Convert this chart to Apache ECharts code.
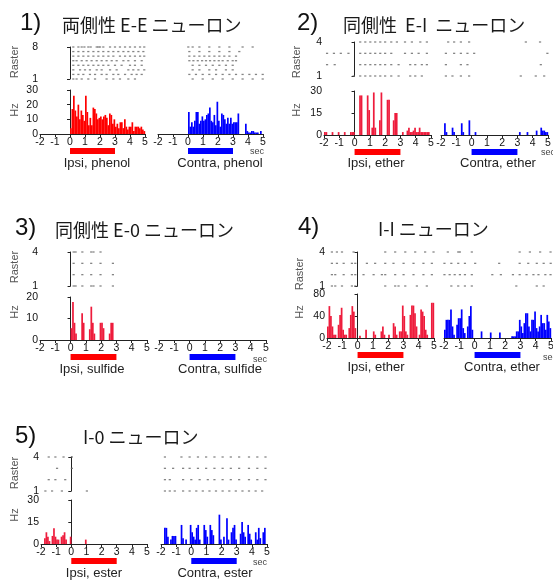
<!DOCTYPE html>
<html><head><meta charset="utf-8">
<script src="https://cdn.jsdelivr.net/npm/echarts@6/dist/echarts.min.js"></script>
<style>html,body{margin:0;padding:0;background:#fff}#c{width:553px;height:581px}</style>
</head><body><div id="c"></div><script>
// ---------- DATA ----------
const binStart = -2, binWidth = 0.1;      // histogram bins: -2.0 .. 4.9 s
const xTicks = [-2, -1, 0, 1, 2, 3, 4, 5];
const stimulus = [0, 3];                  // odor on / off (s)

const panelTitles = ['両側性 E-E ニューロン', '同側性  E-I  ニューロン', '同側性 E-0 ニューロン', 'I-I ニューロン', 'I-0 ニューロン'];
const panelNumbers = ['1)', '2)', '3)', '4)', '5)'];
const ipsiLabels = ['Ipsi, phenol', 'Ipsi, ether', 'Ipsi, sulfide', 'Ipsi, ether', 'Ipsi, ester'];
const contraLabels = ['Contra, phenol', 'Contra, ether', 'Contra, sulfide', 'Contra, ether', 'Contra, ester'];
const hzMax = [30, 30, 20, 80, 30];
const hzStep = [10, 15, 10, 40, 15];
const rasterRows = [8, 4, 4, 4, 4];

// firing rate (Hz), 70 bins from -2.0 s
const hz1Ipsi = [0,0,0,0,0,0,0,0,0,0,0,0,0,0,0,0,0,0,0,0,
  4,17,26,16,12,20,10,16,13,9, 26,15,6,11,6,18,17,14,10,11,
  12,10,12,13,11,6,14,13,7,10, 5,7,4,8,8,4,10,5,3,5,
  5,8,2,5,5,5,4,5,3,2];
const hz1Contra = [0,0,0,0,0,0,0,0,0,0,0,0,0,0,0,0,0,0,0,0,
  15,5,8,5,9,15,15,7,9,12, 9,10,13,14,18,9,8,13,6,22,
  9,5,14,13,10,7,11,7,11,7, 8,8,8,14,0,0,0,0,7,2,
  1,1,2,2,1,1,1,0,2,0];
const hz2Ipsi = [2,2,0,0,0,2,0,0,0,2, 0,0,0,2,0,0,0,2,2,2,
  0,0,0,27,27,0,0,0,27,17, 0,5,29,5,0,0,10,29,0,0,
  0,24,24,0,0,10,15,15,0,0, 0,2,0,0,3,5,2,2,3,5,
  2,2,5,2,2,2,2,2,2,0];
const hz2Contra = [0,0,8,2,0,0,0,5,2,0, 0,0,0,8,2,0,0,0,10,0,
  0,0,2,0,0,0,0,0,0,0, 0,0,0,0,0,0,0,0,0,0,
  0,0,0,0,0,0,0,0,0,0, 0,2,0,0,0,0,2,0,0,0,
  0,0,3,0,0,5,3,3,2,2];
const hz3Ipsi = [0,0,0,0,0,0,0,0,0,0,0,0,0,0,0,0,0,0,0,0,
  5.5,17.7,8,3,0,0,0,12.5,8,0, 0,0,5,15.5,8,3,0,0,0,8,
  8,5.5,0,0,0,3,8,8,0,0, 0,0,0,0,0,0,0,0,0,0,
  0,0,0,0,0,0,0,0,0,0];
const hz3Contra = [0,0,0,0,0,0,0,0,0,0,0,0,0,0,0,0,0,0,0,0,
  0,0,0,0,0,0,0,0,0,0,0,0,0,0,0,0,0,0,0,0,
  0,0,0,0,0,0,0,0,0,0,0,0,0,0,0,0,0,0,0,0,
  0,0,0,0,0,0,0,0,0,0];
const hz4Ipsi = [21,58,40,21,6,6,0,24,42,55, 15,6,6,0,18,42,58,48,18,0,
  0,4,0,0,0,15,0,0,0,0, 12,6,0,0,0,12,21,6,0,0,
  6,0,0,27,21,6,0,12,12,59, 40,12,6,0,42,59,59,45,21,0,
  6,52,48,40,15,6,0,0,64,64];
const hz4Contra = [15,33,33,33,52,21,6,0,24,36, 36,52,18,9,0,21,40,58,15,0,
  0,0,0,0,12,0,0,0,0,0, 10,0,0,0,0,0,10,0,0,0,
  0,0,0,0,3,3,3,12,12,33, 21,9,27,45,45,21,12,33,33,48,
  18,12,21,42,27,27,15,42,30,18];
const hz5Ipsi = [0,0,4,8,5,2,0,5.5,10.7,5, 3,3,0,5,6,8,3,0,0,5,
  0,0,0,0,0,0,0,0,0,3, 0,0,0,0,0,0,0,0,0,0,
  0,0,0,0,0,0,0,0,0,0, 0,0,0,0,0,0,0,0,0,0,
  0,0,0,0,0,0,0,0,0,0];
const hz5Contra = [0,0,11,11,5,0,3,5.5,5.5,5.5, 0,0,0,13,4,0,3,0,0,13,
  8,5,3,11,13,3,0,0,13,9.5, 5,0,13,9.5,6,0,0,0,20,3,
  0,5,0,17.5,3,0,8,11,13,3, 0,0,7,15,8,5,0,13,7,3,
  0,0,8,3,11,4,0,8,11,0];

// spike rasters: spike times (s) per trial, trial 1 first
const raster1Ipsi = [
  [0.22,0.44,0.78,1.22,1.67,2.44,2.89,3.33,3.89,4.33],
  [0.22,0.56,0.89,1.33,1.67,2.11,2.44,2.89,3.22,3.67,4.11,4.44,4.78],
  [0.22,0.67,1.0,1.33,1.78,2.11,2.67,3.11,3.89,4.22,4.56,4.95],
  [0.22,0.56,0.89,1.22,1.56,1.89,2.22,2.56,3.0,3.44,4.0,4.33,4.78],
  [0.22,0.44,0.78,1.11,1.44,1.78,2.11,2.44,2.78,3.11,3.56,3.89,4.33,4.78],
  [0.22,0.56,0.89,1.22,1.56,1.89,2.22,2.56,2.89,3.33,3.67,4.0,4.33,4.67,4.95],
  [0.22,0.56,0.89,1.22,1.56,1.89,2.22,2.56,2.89,3.22,3.56,3.89,4.22,4.56,4.89],
  [0.22,0.56,0.78,0.96,1.22,1.38,1.78,1.89,2.0,2.22,2.67,3.0,3.33,3.67,4.0,4.33,4.67,4.95]];
const raster1Contra = [
  [0.31,0.98,1.65,2.31,2.98,3.64,4.31,4.98],
  [0.09,0.53,0.98,1.42,1.87,2.31,2.76,3.2,3.64,4.09,4.53,4.98],
  [0.31,0.76,1.42,1.87,2.53,2.98],
  [0.31,0.76,1.2,1.65,2.09,2.53,2.98],
  [0.09,0.36,0.65,0.94,1.2,1.47,1.76,2.05,2.31,2.65,2.98,3.2],
  [0.09,0.42,0.76,1.09,1.42,1.76,2.09,2.42,2.76,3.2],
  [0.09,0.76,1.42,2.09,2.76,3.42],
  [0.02,0.31,0.76,1.42,2.09,2.76,3.64,4.31]];
const raster2Ipsi = [
  [-0.06,0.37,0.7,1.03,1.35,1.68,2.0,2.4,2.88,3.64,3.97,4.4],
  [-1.8,-1.3,0.37,0.7,1.03,1.35,1.68,2.0,2.4,2.88,3.64,3.97,4.4,4.73],
  [-1.8,-1.35,-0.9,-0.4,0.37,0.7,1.03,1.35,1.68,2.0,2.4,3.3,3.75,4.19,4.73],
  [0.37,0.7,1.03,1.35,1.68,2.0,2.4,2.77,3.3,3.75,4.3,4.73]];
const raster2Contra = [
  [-1.68,-1.25,-0.7,-0.16,3.22,4.2,4.75],
  [-1.68,-0.7,-0.27,4.53],
  [-1.68,-1.14,-0.7,-0.27,0.17,4.96],
  [-1.53,-1.14,-0.7,-0.16,3.55,4.48]];
const raster3Ipsi = [
  [0.2,0.33,0.77,1.35,1.5,1.96,2.77],
  [0.2,0.77,1.35,1.96,2.77],
  [0.2,0.77,1.35,1.96,2.77],
  [0.2,0.33,0.77,1.35,1.5,1.96]];
const raster3Contra = [[], [], [], []];
const raster4Ipsi = [
  [-1.68,-1.46,-1.02,-0.37,-0.15,1.81,2.46,2.68,3.12,3.88,4.53],
  [-1.68,-1.46,-0.91,-0.37,-0.15,0.39,1.05,1.59,1.81,2.46,3.01,3.66,4.31,4.86],
  [-1.68,-1.35,-0.91,-0.37,-0.15,0.61,1.15,1.81,2.35,3.01,3.66,4.31,4.86],
  [-1.68,-1.35,-1.02,-0.26,1.81,2.46,3.12,3.77,4.42,4.97]];
const raster4Contra = [
  [-1.52,-1.07,-0.63,-0.18,2.73,4.07,4.52],
  [-1.97,-1.63,-1.3,-0.96,-0.63,-0.18,1.16,1.72,2.51,2.95,3.4,3.85,4.18,4.63,4.97],
  [-1.97,-1.52,-1.07,-0.63,0.04,1.61,2.95,3.51,4.07,4.52,4.98],
  [-1.75,-1.07,-0.96,-0.18,2.95,3.62,4.29,4.97]];
const raster5Ipsi = [
  [-1.71,-1.27,-0.62,1.03],
  [-1.49,-1.05,-0.4],
  [-0.94,0.04],
  [-1.49,-1.05,-0.51,0.04]];
const raster5Contra = [
  [-1.74,-1.42,-1.09,-0.54,-0.11,0.33,0.76,1.2,1.63,2.07,2.51,2.94,3.38,3.81,4.25,4.68],
  [-1.74,-1.42,-0.54,0.0,0.55,1.09,1.53,2.07,2.61,3.16,3.81,4.36,4.9],
  [-1.74,-1.2,-0.54,-0.11,0.44,0.98,1.53,2.07,2.61,3.16,3.81,4.36,4.9],
  [-1.74,-0.65,-0.11,0.44,0.98,1.53,2.07,2.61,3.16,3.81,4.36,4.9]];

const hzIpsi = [hz1Ipsi, hz2Ipsi, hz3Ipsi, hz4Ipsi, hz5Ipsi];
const hzContra = [hz1Contra, hz2Contra, hz3Contra, hz4Contra, hz5Contra];
const rastersIpsi = [raster1Ipsi, raster2Ipsi, raster3Ipsi, raster4Ipsi, raster5Ipsi];
const rastersContra = [raster1Contra, raster2Contra, raster3Contra, raster4Contra, raster5Contra];

// ---------- LAYOUT ----------
const layout = [
  {ix:40, cx:158, w:105, rTop:47, rH:32, hTop:90, hH:44, num:[20,23], title:[62,25], axLbl:15, rLblY:62, hzLblY:110, lblY:163, ipsiLblX:97, contraLblX:220, sec:[257,152], red:'#ff0000'},
  {ix:324, cx:441, w:107, rTop:42, rH:34, hTop:91, hH:44, num:[297,23], title:[343,25], axLbl:297, rLblY:62, hzLblY:110, lblY:163, ipsiLblX:376, contraLblX:498, sec:[548,153], red:'#ee1c3c'},
  {ix:40, cx:159, w:107, rTop:252, rH:34, hTop:297, hH:43, num:[15,228], title:[55,230], axLbl:15, rLblY:267, hzLblY:312, lblY:369, ipsiLblX:92, contraLblX:220, sec:[260,360], red:'#ee1c3c'},
  {ix:327, cx:444, w:107, rTop:252, rH:34, hTop:294, hH:44, num:[298,227], title:[378,229], axLbl:300, rLblY:274, hzLblY:312, lblY:367, ipsiLblX:376, contraLblX:502, sec:[550,358], red:'#ee1c3c'},
  {ix:41, cx:161, w:106, rTop:457, rH:34, hTop:500, hH:44, num:[15,436], title:[83,437], axLbl:15, rLblY:473, hzLblY:515, lblY:573, ipsiLblX:94, contraLblX:215, sec:[260,563], red:'#ee1c3c'}
];
const BLUE = '#0000ff';
const AX = '#222';
const NUMFONT = 'Liberation Sans, Arial, sans-serif';
const JPFONT = 'Noto Sans CJK JP, sans-serif';

const grid = [], xAxis = [], yAxis = [], series = [], graphic = [];

function histSeries(gi, arr, color) {
  return {
    type: 'custom', xAxisIndex: gi, yAxisIndex: gi, clip: false, silent: true,
    data: arr.map((v, i) => [binStart + i * binWidth, v]),
    encode: {x: 0, y: 1},
    renderItem: (p, api) => {
      const t = api.value(0), v = api.value(1);
      if (!v) return null;
      const a = api.coord([t, 0]), b = api.coord([t + binWidth, v]);
      return {type: 'rect', shape: {x: a[0], y: b[1], width: b[0] - a[0] + 0.2, height: a[1] - b[1]}, style: {fill: color}};
    }
  };
}
function stimSeries(gi, color) {
  return {
    type: 'custom', xAxisIndex: gi, yAxisIndex: gi, clip: false, silent: true,
    data: [[stimulus[0], stimulus[1]]],
    renderItem: (p, api) => {
      const a = api.coord([api.value(0), 0]), b = api.coord([api.value(1), 0]);
      return {type: 'rect', shape: {x: a[0], y: a[1] + 14, width: b[0] - a[0], height: 6}, style: {fill: color}};
    }
  };
}
function rasterSeries(gi, rows) {
  const d = [];
  rows.forEach((r, ri) => r.forEach(t => d.push([t, ri + 1])));
  return {type: 'scatter', xAxisIndex: gi, yAxisIndex: gi, clip: false, silent: true,
    symbol: 'rect', symbolSize: [2.2, 1.3], itemStyle: {color: '#666'}, data: d};
}
function text(x, y, s, o) {
  graphic.push({type: 'text', x: x, y: y, silent: true,
    style: Object.assign({text: s, fill: '#222', font: '11px ' + NUMFONT, textAlign: 'center', textVerticalAlign: 'middle'}, o || {})});
}

layout.forEach((L, p) => {
  [['ipsi', L.ix], ['contra', L.cx]].forEach(([side, x0]) => {
    const isI = side === 'ipsi';
    // raster grid
    let gi = grid.length;
    grid.push({left: x0, top: L.rTop, width: L.w, height: L.rH, outerBoundsMode: 'none'});
    xAxis.push({gridIndex: gi, type: 'value', min: -2, max: 5, show: false});
    yAxis.push({gridIndex: gi, type: 'value', min: 1, max: rasterRows[p], show: isI,
      splitLine: {show: false},
      axisLine: {show: true, lineStyle: {color: AX, width: 1}},
      axisTick: {show: true, length: 3, customValues: [1, rasterRows[p]], lineStyle: {color: AX}},
      axisLabel: {customValues: [1, rasterRows[p]], fontSize: 10.5, color: '#111', margin: 2, fontFamily: NUMFONT}});
    series.push(rasterSeries(gi, isI ? rastersIpsi[p] : rastersContra[p]));
    // histogram grid
    gi = grid.length;
    grid.push({left: x0, top: L.hTop, width: L.w, height: L.hH, outerBoundsMode: 'none'});
    xAxis.push({gridIndex: gi, type: 'value', min: -2, max: 5, interval: 1,
      splitLine: {show: false},
      axisLine: {show: true, onZero: false, lineStyle: {color: AX, width: 1}},
      axisTick: {show: true, length: 3, lineStyle: {color: AX}},
      axisLabel: {fontSize: 10.5, color: '#111', margin: 3, fontFamily: NUMFONT,
        formatter: v => xTicks.includes(v) ? String(v) : ''}});
    yAxis.push({gridIndex: gi, type: 'value', min: 0, max: hzMax[p], interval: hzStep[p], show: isI,
      splitLine: {show: false},
      axisLine: {show: true, lineStyle: {color: AX, width: 1}},
      axisTick: {show: true, length: 3, lineStyle: {color: AX}},
      axisLabel: {fontSize: 10.5, color: '#111', margin: 2, fontFamily: NUMFONT}});
    const col = isI ? L.red : BLUE;
    series.push(histSeries(gi, isI ? hzIpsi[p] : hzContra[p], col));
    series.push(stimSeries(gi, isI ? '#ff0000' : BLUE));
  });
  // texts
  text(L.num[0], L.num[1], panelNumbers[p], {font: '24px ' + NUMFONT, textAlign: 'left', fill: '#111'});
  text(L.title[0], L.title[1], panelTitles[p], {font: '18px ' + JPFONT, textAlign: 'left', fill: '#1a1a1a'});
  graphic.push({type: 'text', x: L.axLbl, y: L.rLblY, rotation: Math.PI / 2, silent: true,
    style: {text: 'Raster', font: '11px ' + NUMFONT, fill: '#555', textAlign: 'center', textVerticalAlign: 'middle'}});
  graphic.push({type: 'text', x: L.axLbl, y: L.hzLblY, rotation: Math.PI / 2, silent: true,
    style: {text: 'Hz', font: '11px ' + NUMFONT, fill: '#555', textAlign: 'center', textVerticalAlign: 'middle'}});
  text(L.ipsiLblX, L.lblY, ipsiLabels[p], {font: '13px ' + NUMFONT});
  text(L.contraLblX, L.lblY, contraLabels[p], {font: '13px ' + NUMFONT});
  text(L.sec[0], L.sec[1], 'sec', {font: '9px ' + NUMFONT, fill: '#444'});
});

const chart = echarts.init(document.getElementById('c'), null, {renderer: 'canvas'});
chart.setOption({animation: false, backgroundColor: '#fff', grid, xAxis, yAxis, series, graphic});
</script></body></html>
